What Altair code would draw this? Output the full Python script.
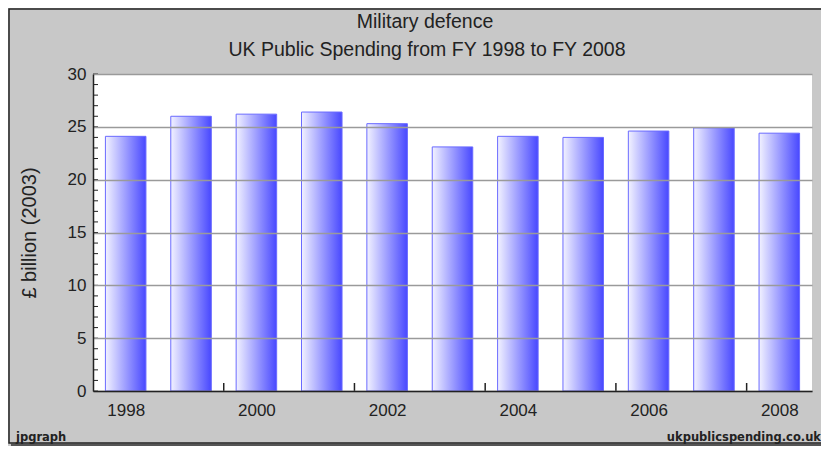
import altair as alt
import pandas as pd

years = [1998, 1999, 2000, 2001, 2002, 2003, 2004, 2005, 2006, 2007, 2008]
spending = [24.1, 26.0, 26.2, 26.4, 25.3, 23.1, 24.1, 24.0, 24.6, 24.9, 24.4]
x_labels = [1998, 2000, 2002, 2004, 2006, 2008]
x_tick_positions = [1999.5, 2001.5, 2003.5, 2005.5, 2007.5]
y_labels = [0, 5, 10, 15, 20, 25, 30]
y_minor = list(range(0, 31))
title_lines = ["Military defence", "UK Public Spending from FY 1998 to FY 2008"]
footer_left = "jpgraph"
footer_right = "ukpublicspending.co.uk"

W, H = 719, 317

df = pd.DataFrame({"year": years, "value": spending})
ticks_x = pd.DataFrame({"pos": x_tick_positions})
ticks_y = pd.DataFrame({"v": y_minor})

xscale = alt.Scale(domain=[1997.5, 2008.5], nice=False, zero=False)
yscale = alt.Scale(domain=[0, 30], nice=False)

grad = alt.Gradient(
    gradient="linear",
    stops=[alt.GradientStop(color="#f2f2ff", offset=0),
           alt.GradientStop(color="#4848ff", offset=1)],
    x1=0, x2=1, y1=0, y2=0,
)

bars = alt.Chart(df).transform_calculate(
    x0="datum.year - 0.31", x1="datum.year + 0.31"
).mark_rect(fill=grad, stroke="#6a6aff", strokeWidth=1).encode(
    x=alt.X("x0:Q", scale=xscale,
            axis=alt.Axis(values=x_labels, format="d", title=None, grid=False,
                          tickSize=0, labelFontSize=17, labelFont="Liberation Sans",
                          labelColor="#222222", labelPadding=11,
                          domainColor="#222222", domainWidth=1.5, zindex=1)),
    x2="x1:Q",
    y=alt.Y("value:Q", scale=yscale,
            axis=alt.Axis(values=y_labels, title="£ billion (2003)", tickSize=0,
                          labelFontSize=17, labelFont="Liberation Sans",
                          labelColor="#222222", labelPadding=7,
                          titleFontSize=20, titleFont="Liberation Sans",
                          titleFontWeight="normal", titleColor="#222222",
                          titlePadding=28,
                          gridColor="#9a9a9a", gridWidth=1.5,
                          domainColor="#222222", domainWidth=1.5, zindex=1)),
    y2=alt.datum(0),
    tooltip=["year:O", "value:Q"],
)

xt = alt.Chart(ticks_x).mark_rule(color="#222222", strokeWidth=1.5).encode(
    x=alt.X("pos:Q", scale=xscale),
    y=alt.value(H),
    y2=alt.value(H - 8),
)

yt = alt.Chart(ticks_y).mark_rule(color="#222222", strokeWidth=1).encode(
    y=alt.Y("v:Q", scale=yscale),
    x=alt.value(0),
    x2=alt.value(5),
)

frame_df = pd.DataFrame({"k": [0]})
shadow = alt.Chart(frame_df).mark_rule(color="#555555", strokeWidth=2.5).encode(
    x=alt.value(-82), x2=alt.value(W + 30),
    y=alt.value(H + 54),
)
frame = alt.Chart(frame_df).mark_rect(fill="transparent", stroke="#222222",
                                       strokeWidth=1.5).encode(
    x=alt.value(-84), x2=alt.value(W + 17),
    y=alt.value(-65), y2=alt.value(H + 52),
)

title1 = alt.Chart(frame_df).mark_text(
    text=title_lines[0], align="center", baseline="middle", fontSize=19.5,
    font="Liberation Sans", color="#222222",
).encode(x=alt.value(332), y=alt.value(-52))
title2 = alt.Chart(frame_df).mark_text(
    text=title_lines[1], align="center", baseline="middle", fontSize=19.5,
    font="Liberation Sans", color="#222222",
).encode(x=alt.value(334), y=alt.value(-24))

foot_left = alt.Chart(frame_df).mark_text(
    text=footer_left, align="left", baseline="middle", fontSize=11.5,
    font="DejaVu Sans", fontWeight="bold", color="#222222",
).encode(x=alt.value(-77), y=alt.value(H + 47))

foot_right = alt.Chart(frame_df).mark_text(
    text=footer_right, align="right", baseline="middle", fontSize=11.5,
    font="DejaVu Sans", fontWeight="bold", color="#222222",
).encode(x=alt.value(W + 9), y=alt.value(H + 47))

chart = alt.layer(
    shadow, frame, bars, xt, yt, title1, title2, foot_left, foot_right
).properties(
    width=W, height=H,
    autosize=alt.AutoSizeParams(type="none"),
    padding={"left": 85, "top": 66, "right": 9, "bottom": 55},
).configure(
    background="#c8c8c8",
).configure_view(
    stroke=None, fill="white",
)

chart.save("out.html", embed_options={"renderer": "svg", "actions": False})
